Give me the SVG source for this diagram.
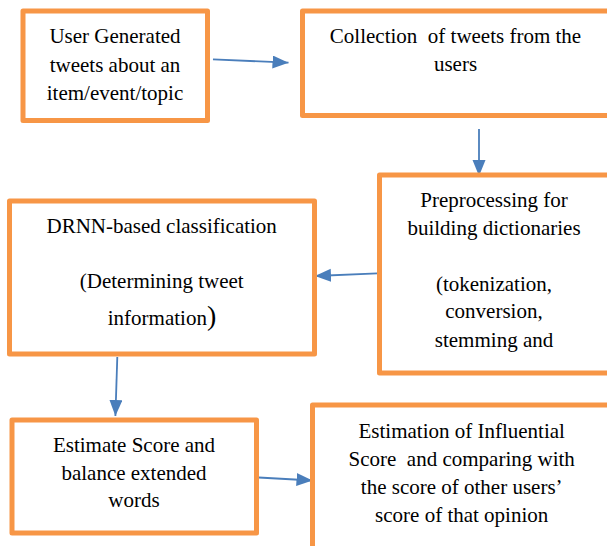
<svg xmlns="http://www.w3.org/2000/svg" width="607" height="546" viewBox="0 0 607 546">
<defs>
<marker id="ah" markerUnits="userSpaceOnUse" markerWidth="18" markerHeight="14" refX="16" refY="6.5" orient="auto">
<path d="M0,0 L16,6.5 L0,13 Z" fill="#4A7EBB"/>
</marker>
</defs>
<rect width="607" height="546" fill="#ffffff"/>
<g id="connectors" stroke="#4A7EBB" stroke-width="1.8" fill="none">
<line x1="213" y1="59.3" x2="288.5" y2="62.7" marker-end="url(#ah)"/>
<line x1="479" y1="129" x2="479" y2="176" marker-end="url(#ah)"/>
<line x1="377.5" y1="273.3" x2="315" y2="276" marker-end="url(#ah)"/>
<line x1="117.3" y1="357" x2="115.4" y2="416" marker-end="url(#ah)"/>
<line x1="258.6" y1="477.5" x2="312.5" y2="480.5" marker-end="url(#ah)"/>
</g>
<g id="node1">
<rect fill="#ffffff" stroke="#F79646" stroke-width="5" stroke-linejoin="round" x="23" y="11" width="184.5" height="109.5"/>
<text font-family="Times New Roman, Liberation Serif, serif" font-size="21" text-anchor="middle" x="115" y="43.3">User Generated</text>
<text font-family="Times New Roman, Liberation Serif, serif" font-size="21" text-anchor="middle" x="115" y="71.7">tweets about an</text>
<text font-family="Times New Roman, Liberation Serif, serif" font-size="21" text-anchor="middle" x="115" y="100">item/event/topic</text>
</g>
<g id="node2">
<rect fill="#ffffff" stroke="#F79646" stroke-width="5" stroke-linejoin="round" x="302.5" y="11" width="330" height="104.5"/>
<text font-family="Times New Roman, Liberation Serif, serif" font-size="21" text-anchor="middle" x="455.5" y="42.7">Collection&#160; of tweets from the</text>
<text font-family="Times New Roman, Liberation Serif, serif" font-size="21" text-anchor="middle" x="455.5" y="71">users</text>
</g>
<g id="node3">
<rect fill="#ffffff" stroke="#F79646" stroke-width="5" stroke-linejoin="round" x="379.5" y="175" width="260" height="198"/>
<text font-family="Times New Roman, Liberation Serif, serif" font-size="21" text-anchor="middle" x="494" y="206.7">Preprocessing for</text>
<text font-family="Times New Roman, Liberation Serif, serif" font-size="21" text-anchor="middle" x="494" y="235">building dictionaries</text>
<text font-family="Times New Roman, Liberation Serif, serif" font-size="21" text-anchor="middle" x="494" y="290.5">(tokenization,</text>
<text font-family="Times New Roman, Liberation Serif, serif" font-size="21" text-anchor="middle" x="494" y="318">conversion,</text>
<text font-family="Times New Roman, Liberation Serif, serif" font-size="21" text-anchor="middle" x="494" y="346.7">stemming and</text>
</g>
<g id="node4">
<rect fill="#ffffff" stroke="#F79646" stroke-width="5" stroke-linejoin="round" x="9.5" y="201" width="305" height="153"/>
<text font-family="Times New Roman, Liberation Serif, serif" font-size="21" text-anchor="middle" x="161.7" y="232.7">DRNN-based classification</text>
<text font-family="Times New Roman, Liberation Serif, serif" font-size="21" text-anchor="middle" x="161.7" y="288.3">(Determining tweet</text>
<text font-family="Times New Roman, Liberation Serif, serif" font-size="21" text-anchor="middle" x="162" y="325">information<tspan font-size="28">)</tspan></text>
</g>
<g id="node5">
<rect fill="#ffffff" stroke="#F79646" stroke-width="5" stroke-linejoin="round" x="12" y="420" width="244.5" height="113"/>
<text font-family="Times New Roman, Liberation Serif, serif" font-size="21" text-anchor="middle" x="134" y="451.7">Estimate Score and</text>
<text font-family="Times New Roman, Liberation Serif, serif" font-size="21" text-anchor="middle" x="134" y="480">balance extended</text>
<text font-family="Times New Roman, Liberation Serif, serif" font-size="21" text-anchor="middle" x="134" y="507.3">words</text>
</g>
<g id="node6">
<rect fill="#ffffff" stroke="#F79646" stroke-width="5" stroke-linejoin="round" x="312.5" y="405" width="320" height="170"/>
<text font-family="Times New Roman, Liberation Serif, serif" font-size="21" text-anchor="middle" x="461.7" y="437.7">Estimation of Influential</text>
<text font-family="Times New Roman, Liberation Serif, serif" font-size="21" text-anchor="middle" x="461.7" y="465.7">Score&#160; and comparing with</text>
<text font-family="Times New Roman, Liberation Serif, serif" font-size="21" text-anchor="middle" x="461.7" y="494">the score of other users&#8217;</text>
<text font-family="Times New Roman, Liberation Serif, serif" font-size="21" text-anchor="middle" x="461.7" y="521.7">score of that opinion</text>
</g>
</svg>
